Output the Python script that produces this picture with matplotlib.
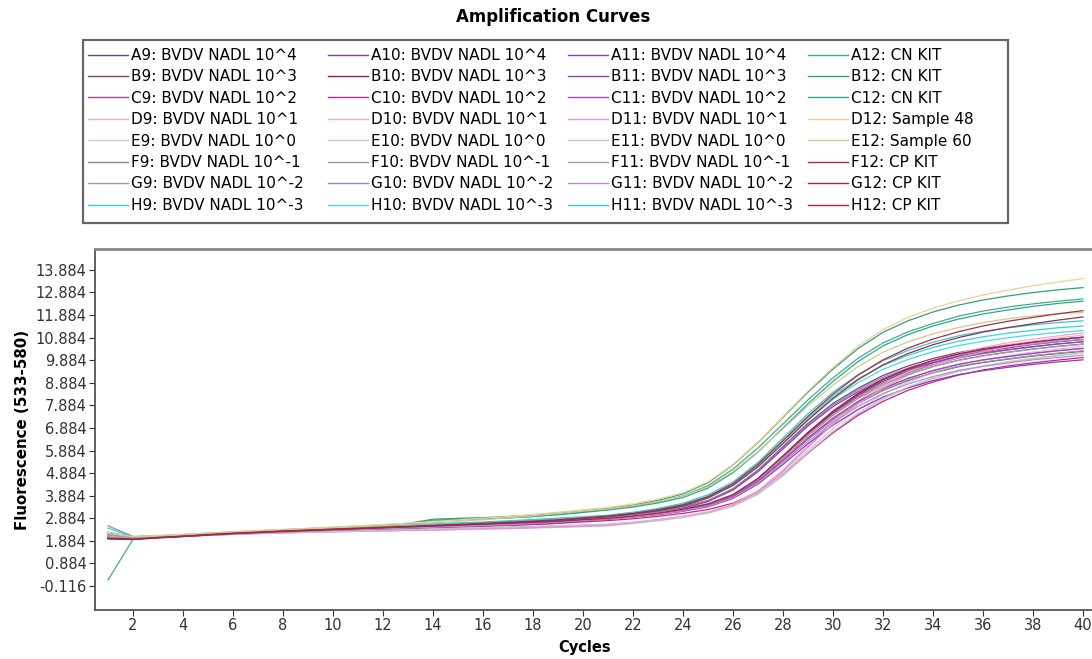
import matplotlib
matplotlib.use("Agg")
import matplotlib.pyplot as plt
from matplotlib.lines import Line2D
from matplotlib.patches import Rectangle
import numpy as np

# cycles 1..40
cycles = list(range(1, 41))

# ---- fluorescence (533-580) per well ----
a9 = [2.05,1.98,2.04,2.10,2.16,2.21,2.26,2.30,2.33,2.37,2.41,2.44,2.48,2.52,2.56,2.60,2.64,2.68,2.73,2.80,
      2.88,2.98,3.09,3.25,3.46,3.84,4.51,5.43,6.39,7.25,7.97,8.55,8.98,9.32,9.59,9.78,9.93,10.07,10.18,10.28]
b9 = [2.10,2.00,2.05,2.11,2.17,2.22,2.27,2.31,2.35,2.39,2.42,2.46,2.50,2.56,2.62,2.64,2.67,2.72,2.78,2.86,
      2.94,3.05,3.19,3.39,3.67,4.19,5.02,6.06,7.09,7.97,8.64,9.21,9.63,9.96,10.22,10.40,10.56,10.69,10.81,10.90]
c9 = [2.00,1.96,2.03,2.09,2.15,2.20,2.24,2.29,2.33,2.36,2.40,2.45,2.49,2.53,2.58,2.61,2.66,2.71,2.77,2.83,
      2.90,3.00,3.12,3.28,3.50,3.90,4.60,5.55,6.55,7.45,8.20,8.80,9.25,9.60,9.88,10.08,10.24,10.38,10.50,10.60]
d9 = [2.15,2.02,2.06,2.10,2.14,2.18,2.21,2.24,2.26,2.28,2.30,2.32,2.34,2.36,2.38,2.40,2.42,2.45,2.48,2.51,
      2.55,2.65,2.77,2.92,3.12,3.45,4.04,4.96,6.06,7.10,8.00,8.73,9.30,9.74,10.09,10.35,10.56,10.73,10.87,11.00]
e9 = [2.08,2.00,2.05,2.09,2.13,2.17,2.21,2.24,2.27,2.29,2.31,2.33,2.36,2.38,2.41,2.44,2.47,2.50,2.53,2.56,
      2.60,2.69,2.80,2.94,3.11,3.41,3.94,4.76,5.75,6.69,7.50,8.15,8.67,9.06,9.38,9.61,9.80,9.95,10.08,10.20]
f9 = [2.20,2.03,2.07,2.12,2.18,2.23,2.28,2.32,2.36,2.40,2.44,2.48,2.52,2.58,2.64,2.68,2.71,2.75,2.80,2.86,
      2.92,3.02,3.14,3.30,3.53,3.93,4.64,5.60,6.61,7.52,8.27,8.88,9.33,9.69,9.97,10.17,10.33,10.47,10.60,10.70]
g9 = [2.12,2.01,2.05,2.10,2.16,2.21,2.25,2.29,2.33,2.37,2.40,2.43,2.46,2.50,2.53,2.57,2.61,2.66,2.72,2.79,
      2.85,2.95,3.07,3.22,3.44,3.83,4.52,5.45,6.43,7.31,8.04,8.63,9.07,9.42,9.69,9.89,10.04,10.18,10.30,10.40]
h9 = [2.45,2.05,2.09,2.14,2.20,2.25,2.30,2.34,2.38,2.43,2.47,2.51,2.56,2.61,2.65,2.69,2.74,2.79,2.85,2.92,
      3.00,3.12,3.28,3.50,3.85,4.40,5.25,6.30,7.35,8.30,9.05,9.65,10.10,10.45,10.72,10.92,11.08,11.21,11.32,11.40]

a10 = [2.06,1.99,2.04,2.10,2.16,2.21,2.26,2.30,2.34,2.38,2.42,2.46,2.50,2.54,2.58,2.62,2.66,2.70,2.75,2.81,
       2.88,2.98,3.11,3.27,3.50,3.91,4.63,5.61,6.64,7.56,8.33,8.95,9.41,9.77,10.06,10.27,10.43,10.58,10.70,10.80]
b10 = [2.02,1.97,2.03,2.09,2.15,2.20,2.25,2.30,2.34,2.38,2.42,2.46,2.50,2.54,2.58,2.62,2.65,2.69,2.74,2.80,
       2.86,2.96,3.09,3.26,3.49,3.90,4.63,5.63,6.67,7.61,8.39,9.02,9.49,9.85,10.15,10.36,10.52,10.67,10.79,10.90]
c10 = [2.04,1.99,2.04,2.09,2.14,2.19,2.23,2.27,2.31,2.34,2.37,2.40,2.43,2.46,2.50,2.53,2.57,2.61,2.66,2.72,
       2.78,2.86,2.97,3.10,3.27,3.55,4.06,4.84,5.78,6.67,7.44,8.06,8.55,8.92,9.22,9.45,9.63,9.77,9.89,10.00]
d10 = [2.18,2.03,2.07,2.11,2.15,2.19,2.22,2.25,2.27,2.29,2.31,2.33,2.35,2.37,2.39,2.41,2.44,2.47,2.50,2.54,
       2.60,2.70,2.82,2.98,3.17,3.51,4.10,5.02,6.12,7.17,8.08,8.81,9.38,9.83,10.18,10.45,10.66,10.82,10.96,11.10]
e10 = [2.09,2.00,2.05,2.09,2.13,2.17,2.21,2.24,2.27,2.30,2.33,2.36,2.38,2.41,2.43,2.46,2.49,2.52,2.55,2.58,
       2.62,2.71,2.83,2.97,3.15,3.46,4.01,4.86,5.89,6.86,7.70,8.38,8.91,9.32,9.65,9.90,10.09,10.25,10.38,10.50]
f10 = [2.14,2.02,2.06,2.11,2.16,2.21,2.26,2.30,2.34,2.38,2.42,2.45,2.49,2.53,2.57,2.61,2.66,2.71,2.77,2.84,
       2.90,3.00,3.11,3.27,3.48,3.86,4.53,5.45,6.41,7.27,7.99,8.57,9.00,9.34,9.61,9.80,9.95,10.09,10.20,10.30]
g10 = [2.55,2.08,2.10,2.14,2.19,2.24,2.29,2.33,2.37,2.41,2.45,2.49,2.53,2.57,2.61,2.65,2.70,2.75,2.81,2.88,
       2.93,3.04,3.18,3.37,3.66,4.17,4.99,6.01,7.03,7.90,8.57,9.13,9.54,9.87,10.12,10.31,10.46,10.59,10.71,10.80]
h10 = [2.22,2.04,2.08,2.13,2.19,2.24,2.29,2.33,2.37,2.42,2.46,2.50,2.55,2.60,2.64,2.68,2.73,2.78,2.84,2.91,
       2.98,3.10,3.25,3.46,3.80,4.33,5.16,6.19,7.22,8.15,8.89,9.48,9.92,10.26,10.53,10.72,10.88,11.01,11.11,11.20]

a11 = [2.03,1.98,2.03,2.08,2.13,2.18,2.22,2.26,2.30,2.33,2.37,2.40,2.43,2.47,2.50,2.53,2.57,2.61,2.66,2.76,
       2.84,2.93,3.04,3.19,3.39,3.76,4.40,5.27,6.19,7.01,7.70,8.25,8.66,8.98,9.24,9.42,9.57,9.70,9.81,9.90]
b11 = [2.11,2.01,2.06,2.11,2.16,2.21,2.26,2.30,2.34,2.38,2.42,2.45,2.49,2.53,2.57,2.61,2.66,2.71,2.77,2.84,
       2.90,3.01,3.14,3.33,3.62,4.13,4.94,5.95,6.97,7.83,8.49,9.05,9.45,9.78,10.03,10.21,10.36,10.49,10.61,10.70]
c11 = [2.07,1.99,2.04,2.09,2.15,2.20,2.24,2.28,2.32,2.36,2.40,2.43,2.47,2.51,2.54,2.58,2.62,2.67,2.72,2.79,
       2.86,2.96,3.08,3.23,3.45,3.84,4.53,5.46,6.44,7.32,8.05,8.64,9.08,9.43,9.70,9.90,10.05,10.19,10.31,10.41]
d11 = [2.16,2.02,2.06,2.10,2.14,2.18,2.21,2.24,2.27,2.29,2.31,2.33,2.35,2.37,2.39,2.42,2.44,2.47,2.50,2.53,
       2.58,2.68,2.80,2.95,3.14,3.47,4.05,4.95,6.03,7.06,7.95,8.66,9.22,9.66,10.00,10.26,10.47,10.63,10.77,10.90]
e11 = [2.10,2.00,2.05,2.09,2.13,2.17,2.20,2.23,2.26,2.29,2.32,2.35,2.38,2.41,2.44,2.47,2.50,2.53,2.56,2.59,
       2.62,2.70,2.81,2.95,3.13,3.43,3.96,4.79,5.79,6.73,7.54,8.19,8.70,9.09,9.40,9.63,9.82,9.97,10.10,10.22]
f11 = [2.13,2.01,2.06,2.11,2.16,2.21,2.25,2.29,2.33,2.37,2.41,2.44,2.48,2.52,2.56,2.59,2.64,2.70,2.77,2.84,
       2.91,3.01,3.13,3.29,3.51,3.92,4.62,5.57,6.57,7.47,8.21,8.80,9.25,9.60,9.87,10.07,10.23,10.37,10.49,10.59]
g11 = [2.05,1.99,2.04,2.09,2.14,2.19,2.23,2.27,2.31,2.35,2.38,2.42,2.45,2.49,2.52,2.56,2.60,2.65,2.71,2.78,
       2.85,2.94,3.06,3.21,3.42,3.79,4.45,5.35,6.29,7.14,7.84,8.41,8.83,9.16,9.43,9.61,9.76,9.90,10.01,10.10]
h11 = [2.27,2.05,2.10,2.15,2.21,2.26,2.31,2.36,2.40,2.45,2.49,2.54,2.59,2.64,2.68,2.72,2.77,2.83,2.89,2.95,
       3.02,3.15,3.32,3.55,3.92,4.49,5.36,6.44,7.51,8.47,9.24,9.86,10.32,10.68,10.96,11.16,11.32,11.45,11.55,11.63]

a12 = [0.15,1.95,2.05,2.11,2.17,2.23,2.28,2.33,2.38,2.43,2.48,2.53,2.62,2.80,2.84,2.86,2.90,2.96,3.05,3.16,
       3.28,3.42,3.61,3.87,4.33,5.06,6.00,7.06,8.13,9.10,9.97,10.65,11.14,11.51,11.83,12.06,12.24,12.38,12.50,12.60]
b12 = [2.24,2.06,2.11,2.16,2.22,2.28,2.33,2.38,2.43,2.48,2.53,2.58,2.66,2.84,2.88,2.91,2.96,3.02,3.10,3.20,
       3.32,3.47,3.68,3.96,4.46,5.24,6.24,7.35,8.47,9.49,10.40,11.12,11.63,12.02,12.32,12.55,12.73,12.88,13.00,13.10]
c12 = [2.20,2.04,2.09,2.14,2.20,2.26,2.31,2.36,2.41,2.46,2.51,2.56,2.63,2.76,2.81,2.85,2.90,2.96,3.04,3.14,
       3.25,3.38,3.56,3.80,4.22,4.90,5.82,6.88,7.96,8.95,9.82,10.52,11.02,11.40,11.70,11.93,12.11,12.27,12.40,12.50]
d12 = [2.26,2.07,2.12,2.17,2.23,2.29,2.34,2.39,2.44,2.49,2.55,2.61,2.67,2.74,2.81,2.88,2.96,3.05,3.15,3.26,
       3.36,3.52,3.73,4.01,4.50,5.26,6.26,7.38,8.52,9.56,10.50,11.24,11.78,12.19,12.51,12.77,12.99,13.18,13.35,13.50]
e12 = [2.21,2.05,2.10,2.15,2.21,2.26,2.31,2.36,2.41,2.46,2.51,2.56,2.62,2.68,2.75,2.82,2.90,2.99,3.09,3.20,
       3.30,3.44,3.62,3.86,4.28,4.95,5.84,6.84,7.86,8.79,9.60,10.24,10.70,11.05,11.33,11.55,11.72,11.85,11.94,12.00]
f12 = [2.00,1.96,2.03,2.09,2.16,2.22,2.27,2.32,2.36,2.40,2.44,2.48,2.52,2.57,2.61,2.66,2.71,2.76,2.82,2.90,
       2.98,3.10,3.26,3.48,3.84,4.42,5.28,6.33,7.40,8.38,9.22,9.90,10.42,10.82,11.14,11.40,11.61,11.78,11.94,12.08]
g12 = [1.98,1.95,2.02,2.08,2.15,2.21,2.26,2.31,2.35,2.39,2.43,2.47,2.51,2.55,2.59,2.63,2.68,2.73,2.79,2.87,
       2.95,3.07,3.22,3.43,3.78,4.34,5.17,6.20,7.25,8.20,9.02,9.68,10.18,10.57,10.88,11.13,11.33,11.50,11.66,11.80]
h12 = [1.97,1.94,2.01,2.07,2.14,2.20,2.25,2.30,2.34,2.38,2.42,2.46,2.50,2.54,2.58,2.62,2.66,2.70,2.75,2.82,
       2.88,2.98,3.11,3.28,3.51,3.92,4.65,5.65,6.69,7.63,8.41,9.04,9.51,9.87,10.16,10.37,10.53,10.68,10.80,10.90]

labels = ["A9: BVDV NADL 10^4", "B9: BVDV NADL 10^3", "C9: BVDV NADL 10^2", "D9: BVDV NADL 10^1",
          "E9: BVDV NADL 10^0", "F9: BVDV NADL 10^-1", "G9: BVDV NADL 10^-2", "H9: BVDV NADL 10^-3",
          "A10: BVDV NADL 10^4", "B10: BVDV NADL 10^3", "C10: BVDV NADL 10^2", "D10: BVDV NADL 10^1",
          "E10: BVDV NADL 10^0", "F10: BVDV NADL 10^-1", "G10: BVDV NADL 10^-2", "H10: BVDV NADL 10^-3",
          "A11: BVDV NADL 10^4", "B11: BVDV NADL 10^3", "C11: BVDV NADL 10^2", "D11: BVDV NADL 10^1",
          "E11: BVDV NADL 10^0", "F11: BVDV NADL 10^-1", "G11: BVDV NADL 10^-2", "H11: BVDV NADL 10^-3",
          "A12: CN KIT", "B12: CN KIT", "C12: CN KIT", "D12: Sample 48",
          "E12: Sample 60", "F12: CP KIT", "G12: CP KIT", "H12: CP KIT"]

series = [a9, b9, c9, d9, e9, f9, g9, h9,
          a10, b10, c10, d10, e10, f10, g10, h10,
          a11, b11, c11, d11, e11, f11, g11, h11,
          a12, b12, c12, d12, e12, f12, g12, h12]

colors = ["#6a4a7e", "#8b3a70", "#9a4a8c", "#e4b0d4", "#d6c6d8", "#8a8a8a", "#a494b4", "#30d4d4",
          "#7a40a8", "#a01848", "#d0208c", "#f2aac0", "#d4c4e4", "#9c9c9c", "#8090c8", "#48dae2",
          "#8a3cb4", "#9a40b0", "#b040c0", "#e890d8", "#c4c4c4", "#a4a4a4", "#b490c8", "#38c8d8",
          "#40b080", "#30a080", "#30a494", "#f0d090", "#cccc90", "#a83040", "#943040", "#b0204c"]

fig = plt.figure(figsize=(10.92, 6.59), dpi=100)
ax = fig.add_axes([95/1092, 49/659, 997/1092, 361/659])

for ys, col in zip(series, colors):
    ax.plot(cycles, ys, color=col, lw=0.9)

ax.set_xlim(0.48, 40.36)
ax.set_ylim(-1.18, 14.81)
ax.set_xticks(range(2, 41, 2))
yt = np.arange(-0.116, 14.0, 1.0)
ax.set_yticks(yt)
ax.set_yticklabels([f"{v:.3f}" for v in yt])
ax.tick_params(direction="out", length=4, width=0.8, labelsize=10.5, colors="#333", pad=2)
for s in ["left", "bottom"]:
    ax.spines[s].set_color("#555")
    ax.spines[s].set_linewidth(1.3)
ax.spines["top"].set_color("#888")
ax.spines["top"].set_linewidth(2)
ax.spines["right"].set_visible(False)

ax.set_xlabel("Cycles", fontsize=10.5, fontweight="bold")
ax.xaxis.set_label_coords(0.491, -0.083)
ax.set_ylabel("Fluorescence (533-580)", fontsize=10.8, fontweight="bold", labelpad=4)

fig.text(553/1092, 1 - 17/659, "Amplification Curves", ha="center", va="center",
         fontsize=12, fontweight="bold")

# legend: four columns of eight, inside one grey box
fig.add_artist(Rectangle((83/1092, 1 - 223/659), 925/1092, 183/659, transform=fig.transFigure,
                         fill=False, edgecolor="#666", lw=1.6))
col_x = [88, 328, 568, 808]
for j in range(4):
    handles = [Line2D([], [], color=colors[8*j + i], lw=1.0) for i in range(8)]
    fig.legend(handles, labels[8*j:8*j + 8], loc="upper left",
               bbox_to_anchor=(col_x[j]/1092, 1 - 48/659), frameon=False,
               fontsize=11, handlelength=2.6, handletextpad=0.2, labelspacing=0.42,
               borderpad=0, borderaxespad=0)

fig.savefig("out.png", dpi=100)
